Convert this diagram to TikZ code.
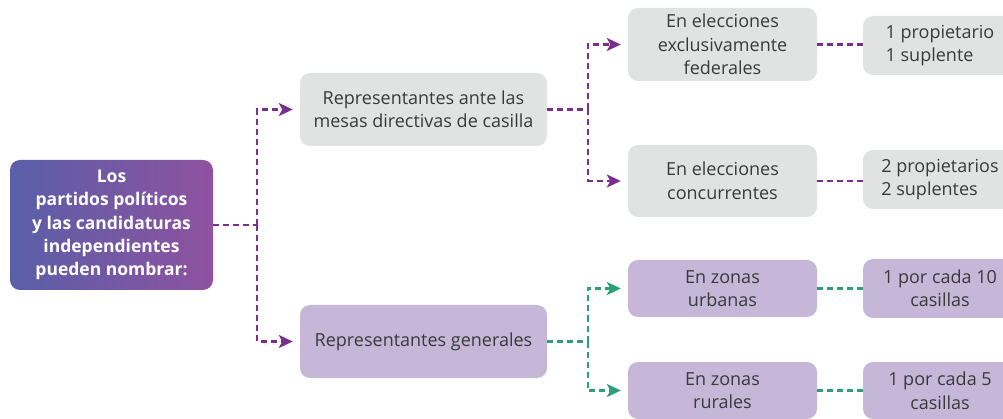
\documentclass[tikz,border=0pt]{standalone}
\usepackage{fontspec}
\setmainfont{Open Sans}
\usetikzlibrary{arrows.meta}

\definecolor{cajagris}{HTML}{E1E2E2}
\definecolor{cajalila}{HTML}{C6B7D9}
\definecolor{textogris}{HTML}{3A3A3A}
\definecolor{lineamorada}{HTML}{7B2E90}
\definecolor{lineaverde}{HTML}{2E9E77}
\definecolor{raizizq}{HTML}{5A5EA8}
\definecolor{raizder}{HTML}{8E52A0}

\begin{document}
\begin{tikzpicture}[x=1pt,y=1pt,
    caja/.style={rounded corners=10pt, align=center, inner sep=0pt, text=textogris,
      font=\fontsize{18}{23.5}\selectfont},
    gris/.style={caja, fill=cajagris},
    lila/.style={caja, fill=cajalila},
    linea/.style={line width=2.2pt, dash pattern=on 6pt off 4pt},
    flecha/.style={linea, -{Stealth[length=14pt,width=13pt,inset=3.5pt]}, shorten >=7pt}
  ]
  % Bounding box
  \useasboundingbox (0,0) rectangle (1003,-419);
  \clip (0,0) rectangle (1003,-419);
  % Root node
  \node[caja, left color=raizizq, right color=raizder, text=white,
    font=\bfseries\fontsize{17.5}{23.3}\selectfont,
    minimum width=203pt, minimum height=130pt] (raiz) at (111.5,-225)
    {Los\\partidos políticos\\y las candidaturas\\independientes\\pueden nombrar:};
  % Second level
  \node[gris, minimum width=247pt, minimum height=73pt] (mesas) at (423.5,-109.5)
    {Representantes ante las\\mesas directivas de casilla};
  \node[lila, minimum width=247pt, minimum height=73pt] (generales) at (423.5,-341.5)
    {Representantes generales};
  % Third level
  \node[gris, minimum width=189pt, minimum height=73pt] (federales) at (722.5,-44.5)
    {En elecciones\\exclusivamente\\federales};
  \node[gris, minimum width=189pt, minimum height=72pt] (concurrentes) at (722.5,-181)
    {En elecciones\\concurrentes};
  \node[lila, minimum width=189pt, minimum height=57pt] (urbanas) at (722.5,-288.5)
    {En zonas\\urbanas};
  \node[lila, minimum width=189pt, minimum height=57pt] (rurales) at (722.5,-390.5)
    {En zonas\\rurales};
  % Fourth level
  \node[gris, align=left, minimum width=154pt, minimum height=59pt] (uno) at (940,-45.5)
    {1 propietario\\1 suplente};
  \node[gris, align=left, minimum width=154pt, minimum height=59pt] (dos) at (940,-179.5)
    {2 propietarios\\2 suplentes};
  \node[lila, minimum width=154pt, minimum height=59pt] (diez) at (940,-288.5)
    {1 por cada 10\\casillas};
  \node[lila, minimum width=154pt, minimum height=57pt] (cinco) at (940,-390.5)
    {1 por cada 5\\casillas};
  % Branch points
  \coordinate (rama0) at (257,-225);
  \coordinate (rama1) at (588,-109.5);
  \coordinate (rama2) at (588,-341.5);
  % Connectors from the root
  \draw[linea, lineamorada] (raiz.east) -- (rama0);
  \draw[flecha, lineamorada] (rama0) |- (mesas);
  \draw[flecha, lineamorada] (rama0) |- (generales);
  % Connectors from the mesas node
  \draw[linea, lineamorada] (mesas.east) -- (rama1);
  \draw[flecha, lineamorada] (rama1) |- (federales);
  \draw[flecha, lineamorada] (rama1) |- (concurrentes);
  % Connectors from the generales node
  \draw[linea, lineaverde] (generales.east) -- (rama2);
  \draw[flecha, lineaverde] (rama2) |- (urbanas);
  \draw[flecha, lineaverde] (rama2) |- (rurales);
  % Plain links to the last column
  \draw[linea, lineamorada] (federales.east) -- (federales.east -| uno.west);
  \draw[linea, lineamorada] (concurrentes.east) -- (concurrentes.east -| dos.west);
  \draw[linea, lineaverde] (urbanas.east) -- (diez.west);
  \draw[linea, lineaverde] (rurales.east) -- (cinco.west);
\end{tikzpicture}
\end{document}
